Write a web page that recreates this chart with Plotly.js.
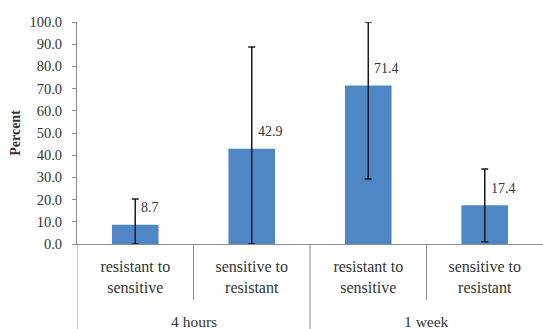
<!DOCTYPE html>
<html>
<head>
<meta charset="utf-8">
<script src="https://cdn.plot.ly/plotly-3.0.1.min.js"></script>
<style>html,body{margin:0;padding:0;background:#fff;}#chart{width:543px;height:329px;}</style>
</head>
<body>
<div id="chart"></div>
<script>
// Data
const groups = ["4 hours", "4 hours", "1 week", "1 week"];
const categories = ["resistant to<br>sensitive", "sensitive to<br>resistant", "resistant to<br>sensitive", "sensitive to<br>resistant"];
const percent = [8.7, 42.9, 71.4, 17.4];
const errorPlus = [11.6, 45.8, 28.6, 16.4];
const errorMinus = [8.7, 42.9, 42.1, 16.4];
const yTicks = [0, 10, 20, 30, 40, 50, 60, 70, 80, 90, 100];

const idx = categories.map((_, i) => i);
const font = "Liberation Serif, Times New Roman, serif";
const textColor = "#333333";
const lineColor = "#8c8c8c";

const trace = {
  type: "bar",
  x: idx,
  y: percent,
  width: 0.4,
  marker: {color: "#4f86c6", line: {width: 0}},
  error_y: {type: "data", symmetric: false, array: errorPlus, arrayminus: errorMinus,
            color: "#1a1a1a", thickness: 1.5, width: 3.5},
  hoverinfo: "none"
};

// boundaries between categories
const shapes = [];
for (let i = 0; i < idx.length; i++) {
  const b = i - 0.5;
  const isGroupEdge = i === 0 || groups[i] !== groups[i - 1];
  shapes.push({type: "line", xref: "x", yref: "paper", x0: b, x1: b,
               y0: 0, y1: isGroupEdge ? -0.4 : -0.252,
               line: {color: lineColor, width: 1}});
}

const annotations = idx.map(i => ({
  x: i, y: percent[i], xref: "x", yref: "y", text: percent[i].toFixed(1),
  showarrow: false, xanchor: "left", yanchor: "middle", xshift: 4, yshift: 17,
  font: {family: font, size: 14, color: textColor}
}));
const uniqueGroups = [...new Set(groups)];
uniqueGroups.forEach(g => {
  const members = idx.filter(i => groups[i] === g);
  const c = members.reduce((a, b) => a + b, 0) / members.length;
  annotations.push({x: c, y: -0.35, xref: "x", yref: "paper", text: g, showarrow: false,
    xanchor: "center", yanchor: "middle", font: {family: font, size: 15.5, color: textColor}});
});

const layout = {
  width: 543, height: 329,
  margin: {l: 77, r: 0, t: 22, b: 85},
  paper_bgcolor: "#fff", plot_bgcolor: "#fff",
  showlegend: false,
  font: {family: font, color: textColor},
  xaxis: {
    range: [-0.5, idx.length - 0.5],
    tickvals: idx, ticktext: categories,
    ticks: "", showgrid: false, zeroline: false,
    showline: true, linecolor: lineColor, linewidth: 1,
    tickfont: {family: font, size: 16, color: textColor},
    ticklabelstandoff: 8
  },
  yaxis: {
    range: [0, 100], tickvals: yTicks, tickformat: ".1f",
    ticks: "outside", ticklen: 4, tickcolor: lineColor,
    showgrid: false, zeroline: false,
    showline: true, linecolor: lineColor, linewidth: 1,
    tickfont: {family: font, size: 14.5, color: textColor},
    ticklabelstandoff: 7,
    title: {text: "<b>Percent</b>", font: {family: font, size: 14, color: textColor}, standoff: 5}
  },
  shapes: shapes,
  annotations: annotations
};

Plotly.newPlot("chart", [trace], layout, {displayModeBar: false, staticPlot: true});
</script>
</body>
</html>
